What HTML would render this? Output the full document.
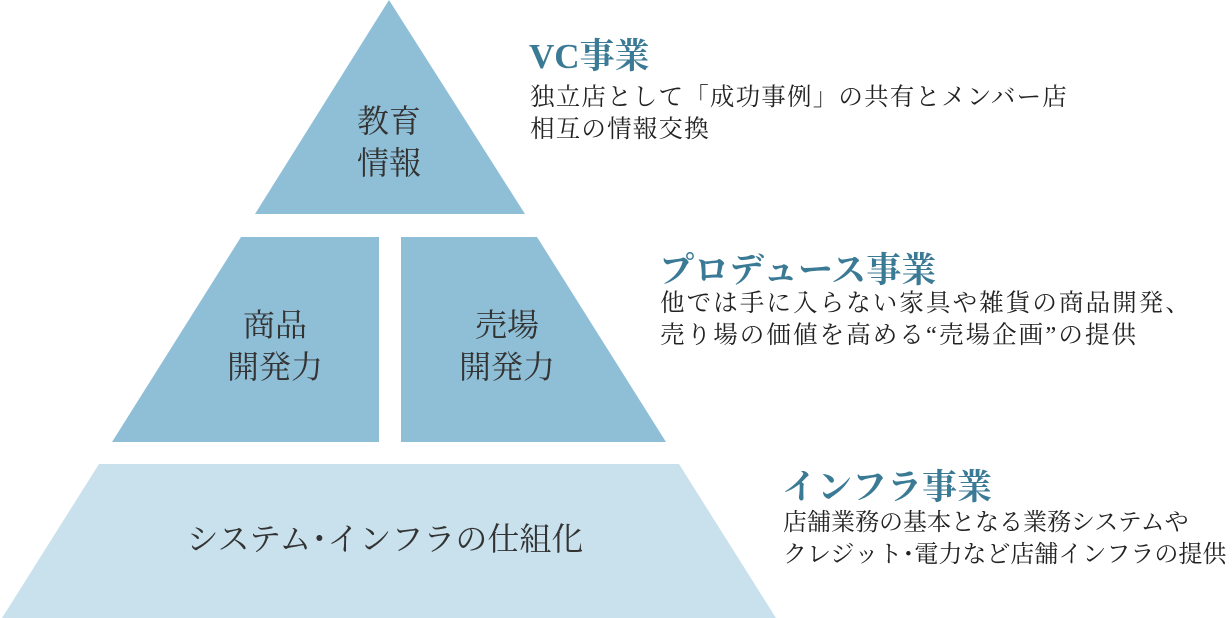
<!DOCTYPE html>
<html><head><meta charset="utf-8">
<style>
html,body{margin:0;padding:0;background:#fff;}
body{width:1232px;height:618px;position:relative;overflow:hidden;font-family:"Liberation Serif","Noto Serif CJK JP","Noto Serif CJK SC",serif;}
.t{position:absolute;white-space:nowrap;}
.h{color:#3b7a95;font-weight:bold;font-size:35px;line-height:40px;}
.b{color:#222;font-size:24.5px;line-height:32px;}
.c{position:absolute;color:#333;font-size:32px;line-height:42px;text-align:center;}
</style></head><body>
<svg width="1232" height="618" style="position:absolute;left:0;top:0">
<polygon points="389,0 525,214 255,214" fill="#8fbfd7"/>
<polygon points="241,237 379,237 379,442 112,442" fill="#8fbfd7"/>
<polygon points="401,237 537,237 666,442 401,442" fill="#8fbfd7"/>
<polygon points="99,464 679,464 776,618 2,618" fill="#c8e1ec"/>
</svg>
<div class="c" style="left:309px;width:160px;top:100px">教育<br>情報</div>
<div class="c" style="left:175px;width:200px;top:304px">商品<br>開発力</div>
<div class="c" style="left:407px;width:200px;top:304px">売場<br>開発力</div>
<div class="c" style="left:135px;width:500px;top:518px">システム･インフラの仕組化</div>
<div class="t h" style="left:529px;top:37px">VC事業</div>
<div class="t b" style="left:530px;top:82px;letter-spacing:1.2px">独立店として「成功事例」の共有とメンバー店<br>相互の情報交換</div>
<div class="t h" style="left:659px;top:251px">プロデュース事業</div>
<div class="t b" style="left:660px;top:288px;letter-spacing:2.1px">他では手に入らない家具や雑貨の商品開発、<br>売り場の価値を高める“売場企画”の提供</div>
<div class="t h" style="left:782px;top:468px">インフラ事業</div>
<div class="t b" style="left:783px;top:507px;letter-spacing:0;font-size:24px">店舗業務の基本となる業務システムや<br>クレジット･電力など店舗インフラの提供</div>
</body></html>
